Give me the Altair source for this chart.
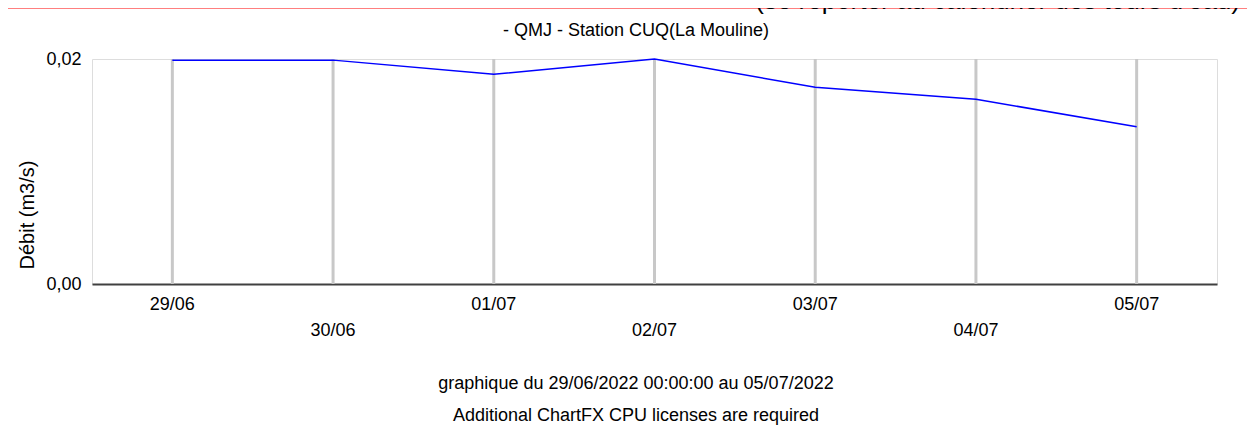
import altair as alt
import pandas as pd

# ---- data ----
dates = ["2022-06-29T00:00:00", "2022-06-30T00:00:00", "2022-07-01T00:00:00",
         "2022-07-02T00:00:00", "2022-07-03T00:00:00", "2022-07-04T00:00:00",
         "2022-07-05T00:00:00"]
debit = [0.0199, 0.0199, 0.01864, 0.0200, 0.01748, 0.01642, 0.01398]
tick_labels = ["29/06", "30/06", "01/07", "02/07", "03/07", "04/07", "05/07"]
label_row = [0, 1, 0, 1, 0, 1, 0]
x_domain = ["2022-06-28T12:00:00", "2022-07-05T12:00:00"]
y_domain = [0, 0.02]
y_ticks = [0, 0.02]

title_text = "- QMJ - Station CUQ(La Mouline)"
y_title = "Débit (m3/s)"
footer1 = "graphique du 29/06/2022 00:00:00 au 05/07/2022"
footer2 = "Additional ChartFX CPU licenses are required"
header_text = "(se reporter au calendrier des tours d'eau)"

df = pd.DataFrame({"date": dates, "debit": debit, "label": tick_labels, "row": label_row})

FONT = "Liberation Sans"
W, H = 1125, 225

xs = alt.Scale(domain=x_domain)
ys = alt.Scale(domain=y_domain)

base = alt.Chart(df)

grid = base.mark_rule(color="#c8c8c8", strokeWidth=3).encode(
    x=alt.X("date:T", scale=xs,
            axis=alt.Axis(title=None, labels=False, ticks=False, grid=False,
                          domainColor="#404040", domainWidth=2)),
    y=alt.value(0), y2=alt.value(H),
)

line = base.mark_line(color="#0000ff", strokeWidth=1.5).encode(
    x=alt.X("date:T", scale=xs),
    y=alt.Y("debit:Q", scale=ys,
            axis=alt.Axis(title=None, values=y_ticks, grid=False, ticks=False, tickSize=0,
                          domain=False, labelPadding=11, labelFontSize=18, labelFont=FONT,
                          labelColor="#000000",
                          labelExpr="replace(format(datum.value, '.2f'), '.', ',')")),
)

lab0 = base.transform_filter("datum.row == 0").mark_text(
    font=FONT, fontSize=18, color="#000000", baseline="middle", align="center").encode(
    x=alt.X("date:T", scale=xs), y=alt.value(246), text="label:N")
lab1 = base.transform_filter("datum.row == 1").mark_text(
    font=FONT, fontSize=18, color="#000000", baseline="middle", align="center").encode(
    x=alt.X("date:T", scale=xs), y=alt.value(272), text="label:N")


def annot(txt, x, y, size=18, angle=0, align="center", color="#000000"):
    d = pd.DataFrame({"t": [txt]})
    return alt.Chart(d).mark_text(font=FONT, fontSize=size, color=color, baseline="middle",
                                  align=align, angle=angle).encode(
        text="t:N", x=alt.value(x), y=alt.value(y))


header_band = alt.Chart(pd.DataFrame({"a": [0]})).mark_rect(color="#ff7f7f").encode(
    x=alt.value(-100), x2=alt.value(W + 60), y=alt.value(-80), y2=alt.value(-50))

layers = alt.layer(
    header_band,
    annot(header_text, 1240 - 92, -58, size=26, align="right"),
    grid, line, lab0, lab1,
    annot(title_text, 544, -28),
    annot(y_title, -64, 156, size=20, angle=270),
    annot(footer1, 544, 325),
    annot(footer2, 544, 357),
).properties(
    width=W, height=H,
    autosize=alt.AutoSizeParams(type="none"),
    padding={"left": 84, "top": 51, "right": 30, "bottom": 144},
).configure_view(stroke="#d4d4d4", strokeWidth=2).configure(background="white")

chart = layers
chart.save("out.html", embed_options={"renderer": "svg", "actions": False})
